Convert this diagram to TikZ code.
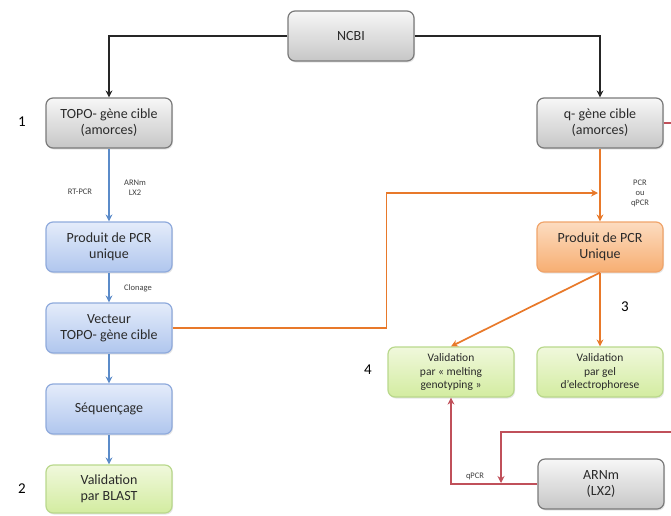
\documentclass[tikz,border=0pt]{standalone}
\usepackage{fontspec}
\setmainfont{Carlito}
\usetikzlibrary{arrows.meta,shadows}
\definecolor{grayline}{HTML}{7A7A7A}
\definecolor{blueline}{HTML}{5B8BC9}
\definecolor{orangeline}{HTML}{E8792A}
\definecolor{redline}{HTML}{C0505A}
\definecolor{bluetop}{HTML}{E4ECFA}
\definecolor{bluebot}{HTML}{B0C6EE}
\definecolor{blueedge}{HTML}{8FAADC}
\definecolor{orangetop}{HTML}{FCDCC0}
\definecolor{orangebot}{HTML}{F7AE72}
\definecolor{orangeedge}{HTML}{F0A46A}
\definecolor{greentop}{HTML}{F0F8DC}
\definecolor{greenbot}{HTML}{D3ECA0}
\definecolor{greenedge}{HTML}{B9D88C}
\definecolor{textdark}{HTML}{2A2A2A}
\begin{document}
\begin{tikzpicture}[x=1pt, y=-1pt, line width=1.7pt, >={Stealth[length=7pt,width=7pt]},
  box/.style={rounded corners=7pt, minimum width=126pt, minimum height=50pt, align=center, line width=1.2pt,
    text=textdark, font=\fontsize{14}{16}\selectfont, drop shadow={opacity=0.2, shadow xshift=1pt, shadow yshift=-1.5pt}},
  graybox/.style={box, draw=grayline, top color=gray!6, bottom color=gray!45},
  bluebox/.style={box, draw=blueedge, top color=bluetop, bottom color=bluebot},
  orangebox/.style={box, draw=orangeedge, top color=orangetop, bottom color=orangebot},
  greenbox/.style={box, draw=greenedge, top color=greentop, bottom color=greenbot},
  smalltext/.style={font=\fontsize{11.5}{13.5}\selectfont},
  tag/.style={font=\fontsize{8.5}{10}\selectfont, align=center, text=black!75},
  number/.style={font=\fontsize{15}{17}\selectfont}]
\useasboundingbox (0,0) rectangle (671,515);

% boxes
\node [graybox] (ncbi) at (351,36) {NCBI};
\node [graybox] (topo) at (109,123) {TOPO- gène cible\\(amorces)};
\node [graybox] (qgene) at (600,123) {q- gène cible\\(amorces)};
\node [bluebox] (prodA) at (109,247) {Produit de PCR\\unique};
\node [bluebox] (vect) at (109,328) {Vecteur\\TOPO- gène cible};
\node [bluebox] (seq) at (109,409) {Séquençage};
\node [greenbox, minimum height=48pt] (blast) at (109,489) {Validation\\par BLAST};
\node [orangebox] (prodB) at (600,247) {Produit de PCR\\Unique};
\node [greenbox, smalltext] (melt) at (451,372) {Validation\\par « melting\\genotyping »};
\node [greenbox, smalltext] (gel) at (600,372) {Validation\\par gel\\d'electrophorese};
\node [graybox] (arnm) at (601,484) {ARNm\\(LX2)};

% free ends
\coordinate (join) at (598,193);
\coordinate (redin) at (671,432);
\coordinate (redtip) at (501,483);
\coordinate (redout) at (671,123);

% black
\draw [->, black!85] (ncbi.west) -| (topo.north);
\draw [->, black!85] (ncbi.east) -| (qgene.north);

% blue
\draw [->, blueline] (topo) -- (prodA);
\draw [->, blueline] (prodA) -- (vect);
\draw [->, blueline] (vect) -- (seq);
\draw [->, blueline] (seq) -- (blast);

% orange
\draw [->, orangeline] (vect.east) -- ++(214,0) |- (join);
\draw [->, orangeline] (qgene) -- (prodB);
\draw [->, orangeline] (prodB.south) -- (gel.north);
\draw [->, orangeline] (prodB.south) -- (melt.north);

% red
\draw [redline] (qgene.east) -- (redout);
\draw [->, redline] (redin) -| (redtip);
\draw [->, redline] (arnm.west) -| (melt.south);

% labels
\node [tag] (lrt) at (80,192) {RT-PCR};
\node [tag] (larn) at (135,188) {ARNm\\LX2};
\node [tag] (lclo) at (138,288) {Clonage};
\node [tag] (lpcr) at (640,193) {PCR\\ou\\qPCR};
\node [tag] (lqpcr) at (475,476) {qPCR};
\node [number] (n1) at (22,122) {1};
\node [number] (n2) at (22,489) {2};
\node [number] (n3) at (625,307) {3};
\node [number] (n4) at (368,370) {4};
\end{tikzpicture}
\end{document}
